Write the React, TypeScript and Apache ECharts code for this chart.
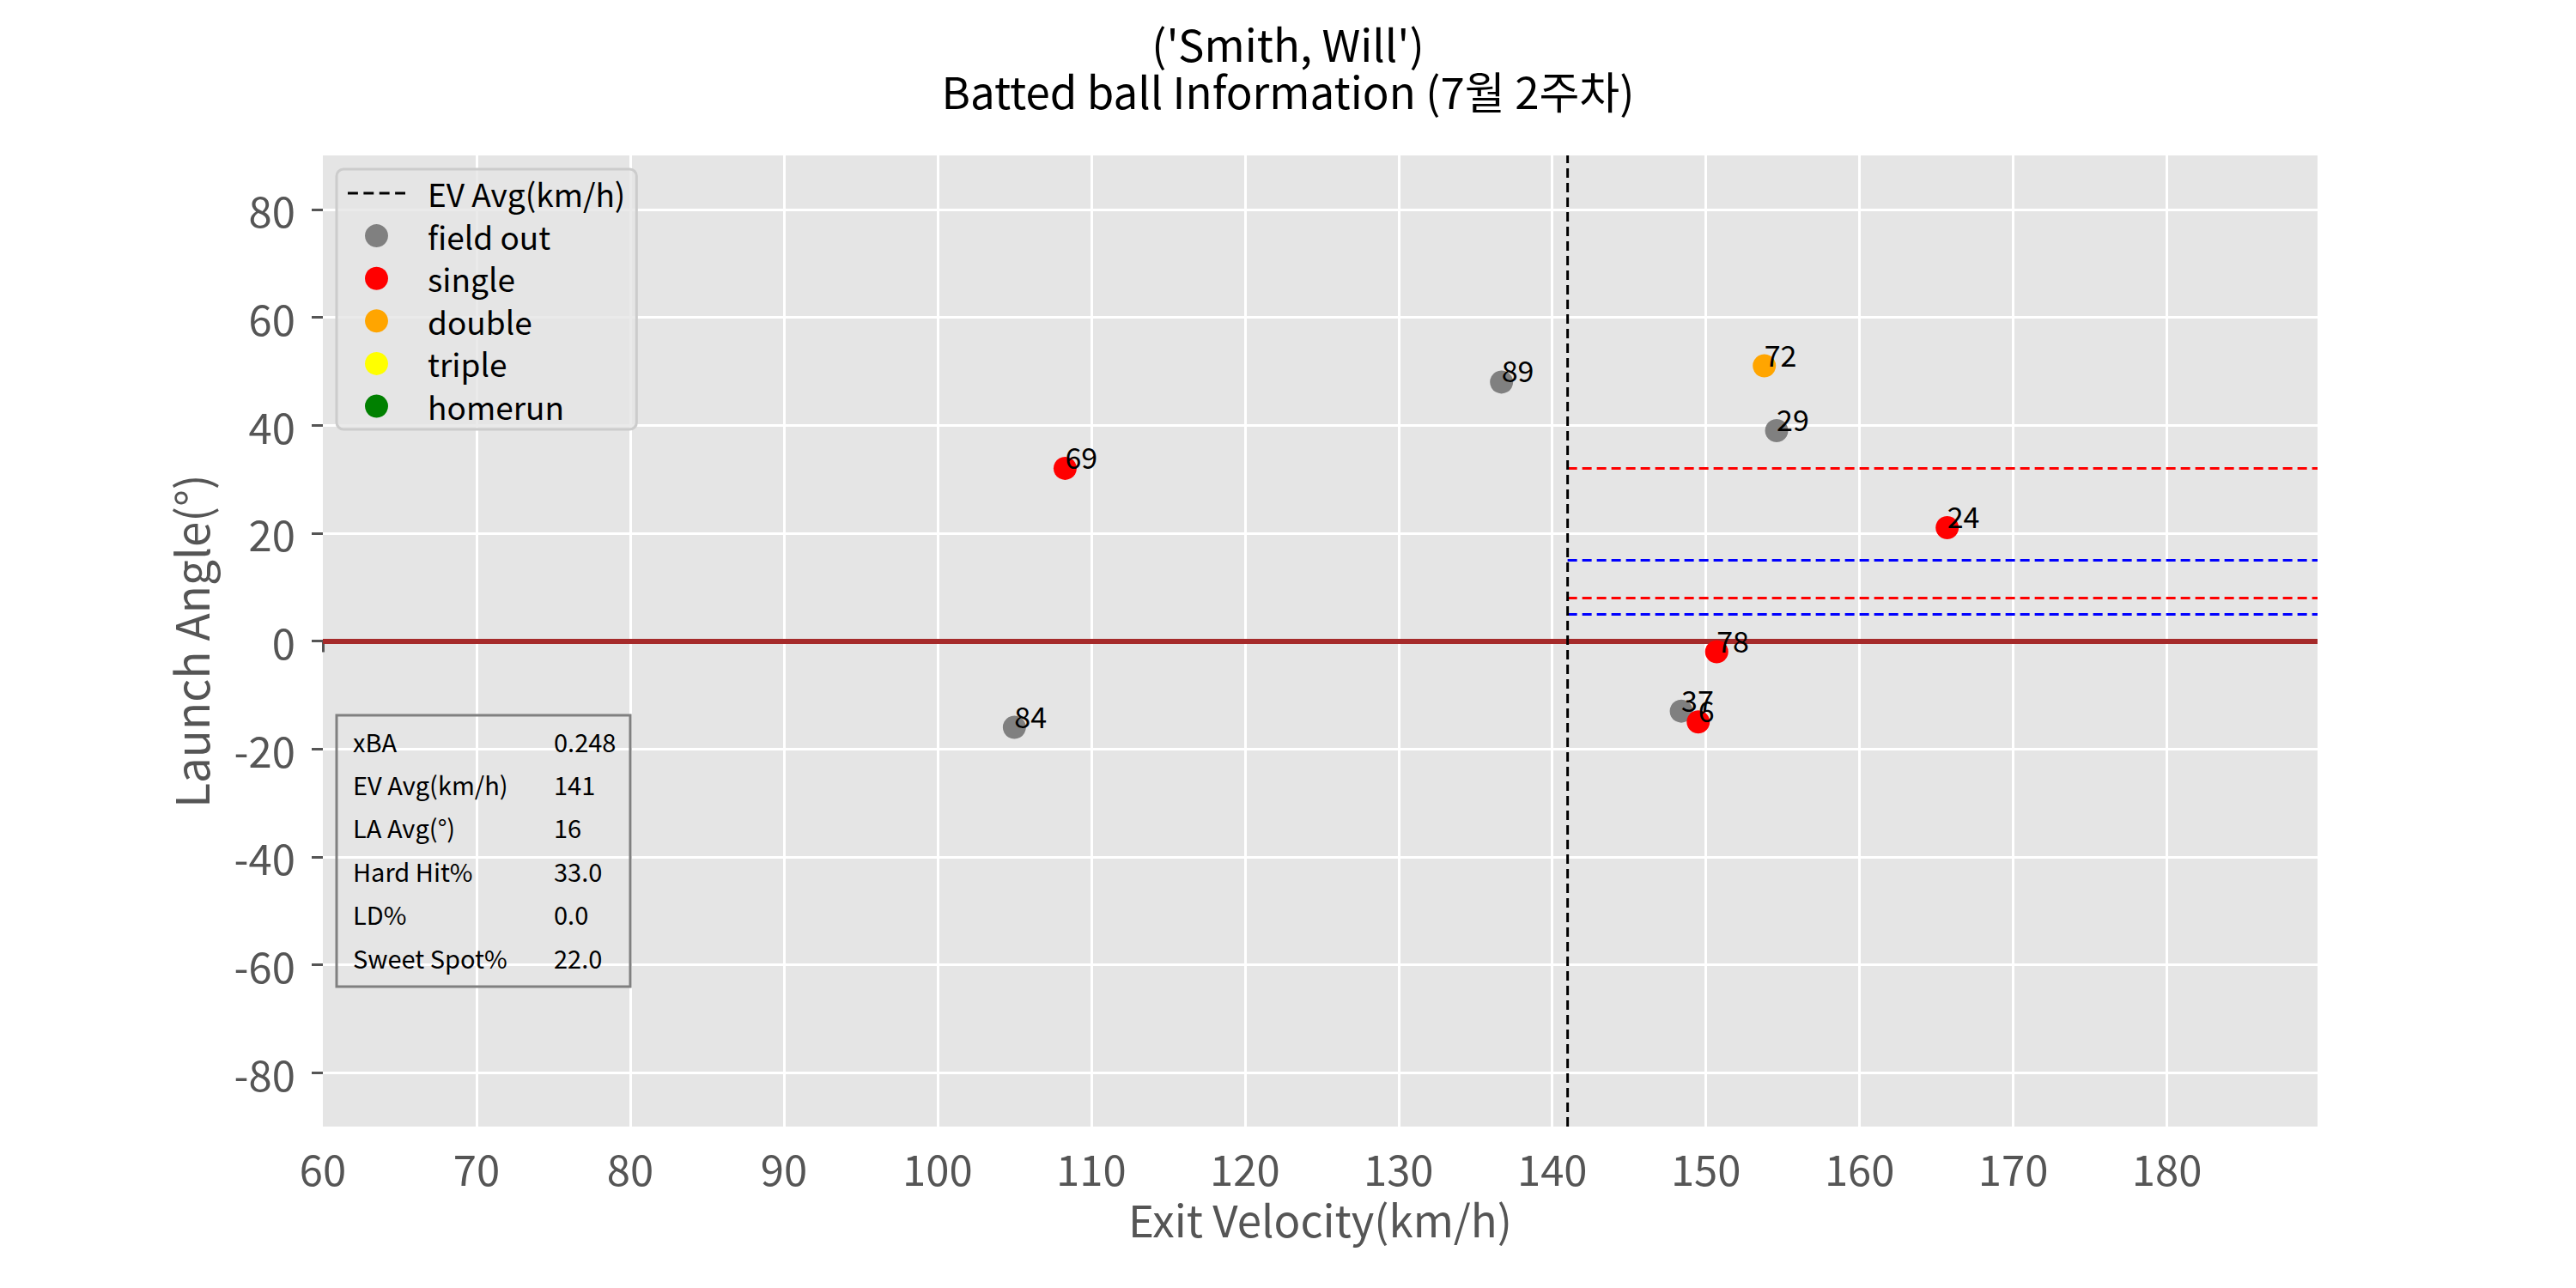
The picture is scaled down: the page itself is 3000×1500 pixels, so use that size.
import React, { useEffect, useRef } from "react";
import * as echarts from "echarts";

// ---- data ----
const hitIds = [84, 69, 89, 72, 29, 24, 78, 37, 6];
const exitVelocity = [105.0, 108.3, 136.7, 153.8, 154.6, 165.7, 150.7, 148.4, 149.5];
const launchAngle = [-16, 32, 48, 51, 39, 21, -2, -13, -15];
const hitResult = ["field out", "single", "field out", "double", "field out", "single", "single", "field out", "single"];

const resultTypes = ["field out", "single", "double", "triple", "homerun"];
const resultColors = ["#808080", "#FF0000", "#FFA500", "#FFFF00", "#008000"];

const evAvg = 141;
const evAvgName = "EV Avg(km/h)";
const redLines = [32, 8];
const blueLines = [15, 5];
const zeroLine = 0;

const xMin = 60;
const xMax = 189.8;
const yMin = -90;
const yMax = 90;
const xTicks = [60, 70, 80, 90, 100, 110, 120, 130, 140, 150, 160, 170, 180];
const yTicks = [-80, -60, -40, -20, 0, 20, 40, 60, 80];

const statLabels = ["xBA", "EV Avg(km/h)", "LA Avg(°)", "Hard Hit%", "LD%", "Sweet Spot%"];
const statValues = ["0.248", "141", "16", "33.0", "0.0", "22.0"];

const titleLines = ["('Smith, Will')", "Batted ball Information (7월 2주차)"];
const xName = "Exit Velocity(km/h)";
const yName = "Launch Angle(°)";

const FONT = "'Noto Sans CJK KR', 'Noto Sans', sans-serif";
const DASH_ICON = "path://M0 0H11V3H0Z M17 0H28V3H17Z M34 0H45V3H34Z M51 0H62V3H51Z";

export default function App() {
  const ref = useRef<HTMLDivElement>(null);

  useEffect(() => {
    if (!ref.current) return;
    const chart = echarts.init(ref.current, null, { renderer: "svg" });

    const gridLineData = [
      ...xTicks.filter((v) => v > xMin && v < xMax).map((v) => ({ xAxis: v })),
      ...yTicks.filter((v) => v > yMin && v < yMax).map((v) => ({ yAxis: v })),
    ];

    const zoneData = [
      ...redLines.map((v) => [
        { coord: [evAvg, v], lineStyle: { color: "#FF0000" } },
        { coord: [xMax, v] },
      ]),
      ...blueLines.map((v) => [
        { coord: [evAvg, v], lineStyle: { color: "#0000FF" } },
        { coord: [xMax, v] },
      ]),
    ];

    const scatterSeries = resultTypes.map((t, k) => ({
      type: "scatter",
      name: t,
      z: 6,
      symbol: "circle",
      symbolSize: 27,
      itemStyle: { color: resultColors[k], opacity: 1 },
      data: hitIds
        .map((id, i) => ({ id, i }))
        .filter((o) => hitResult[o.i] === t)
        .map((o) => [exitVelocity[o.i], launchAngle[o.i], o.id]),
      label: {
        show: true,
        formatter: (p: any) => String(p.data[2]),
        position: [13.5, 16.5],
        align: "left",
        verticalAlign: "bottom",
        color: "#000",
        fontSize: 34,
        fontFamily: FONT,
      },
      emphasis: { disabled: true },
    }));

    const markBase = {
      silent: true,
      symbol: ["none", "none"],
      label: { show: false },
      emphasis: { disabled: true },
    };

    const option: any = {
      animation: false,
      backgroundColor: "#FFFFFF",
      textStyle: { fontFamily: FONT },
      title: {
        text: titleLines.join("\n"),
        left: "center",
        top: 22,
        padding: 0,
        textStyle: {
          fontSize: 51,
          lineHeight: 55,
          color: "#000",
          fontWeight: "normal",
          fontFamily: FONT,
        },
      },
      grid: {
        left: 376,
        right: 301,
        top: 181,
        bottom: 188,
        show: true,
        backgroundColor: "#E5E5E5",
        borderWidth: 0,
        containLabel: false,
      },
      xAxis: {
        type: "value",
        min: xMin,
        max: xMax,
        interval: 10,
        splitLine: { show: false },
        axisLine: { show: false },
        axisTick: {
          show: true,
          length: 13,
          customValues: xTicks,
          lineStyle: { color: "#555555", width: 3 },
        },
        axisLabel: {
          customValues: xTicks,
          fontSize: 49,
          color: "#555555",
          margin: 23,
          fontFamily: FONT,
        },
        name: xName,
        nameLocation: "middle",
        nameGap: 81,
        nameTextStyle: { fontSize: 51, lineHeight: 51, color: "#555555", fontFamily: FONT },
      },
      yAxis: {
        type: "value",
        min: yMin,
        max: yMax,
        splitLine: { show: false },
        axisLine: { show: false },
        axisTick: {
          show: true,
          length: 13,
          customValues: yTicks,
          lineStyle: { color: "#555555", width: 3 },
        },
        axisLabel: {
          customValues: yTicks,
          fontSize: 49,
          color: "#555555",
          margin: 32,
          fontFamily: FONT,
        },
        name: yName,
        nameLocation: "middle",
        nameGap: 129,
        nameTextStyle: { fontSize: 53, lineHeight: 53, color: "#555555", fontFamily: FONT },
      },
      legend: {
        show: true,
        z: 4,
        orient: "vertical",
        left: 392,
        top: 197,
        data: [{ name: evAvgName, icon: DASH_ICON }, ...resultTypes],
        itemWidth: 67,
        itemHeight: 27,
        itemGap: 9.6,
        padding: [8, 13, 7, 13],
        backgroundColor: "rgba(229,229,229,0.8)",
        borderColor: "#CCCCCC",
        borderWidth: 3,
        borderRadius: 8,
        selectedMode: false,
        textStyle: {
          fontSize: 37,
          lineHeight: 40,
          color: "#000",
          fontFamily: FONT,
          padding: [0, 0, 0, 21],
        },
      },
      graphic: [
        {
          type: "group",
          z: 100,
          children: [
            {
              type: "rect",
              z: 100,
              shape: { x: 392, y: 833, width: 342, height: 316 },
              style: { fill: "none", stroke: "#808080", lineWidth: 3 },
            },
            ...statLabels.map((s, i) => ({
              type: "text",
              z: 100,
              x: 411,
              y: 862.5 + i * 50.4,
              style: {
                text: s,
                fontSize: 29,
                fontFamily: FONT,
                fill: "#000",
                verticalAlign: "middle",
                align: "left",
              },
            })),
            ...statValues.map((s, i) => ({
              type: "text",
              z: 100,
              x: 645,
              y: 862.5 + i * 50.4,
              style: {
                text: s,
                fontSize: 29,
                fontFamily: FONT,
                fill: "#000",
                verticalAlign: "middle",
                align: "left",
              },
            })),
          ],
        },
      ],
      series: [
        {
          type: "line",
          name: "gridlines",
          z: 1,
          silent: true,
          data: [],
          markLine: {
            ...markBase,
            z: 1,
            lineStyle: { color: "#FFFFFF", width: 3, type: "solid" },
            data: gridLineData,
          },
        },
        {
          type: "line",
          name: "zero",
          z: 2,
          silent: true,
          data: [],
          markLine: {
            ...markBase,
            z: 2,
            lineStyle: { color: "#A52A2A", width: 6, type: "solid" },
            data: [{ yAxis: zeroLine }],
          },
        },
        {
          type: "line",
          name: "zones",
          z: 3,
          silent: true,
          data: [],
          markLine: {
            ...markBase,
            z: 3,
            lineStyle: { width: 3, type: [11, 6] },
            data: zoneData,
          },
        },
        {
          type: "line",
          name: evAvgName,
          z: 3,
          silent: true,
          symbol: "none",
          itemStyle: { color: "#000000" },
          lineStyle: { color: "#000000", width: 3, type: [11, 6] },
          data: [
            [evAvg, yMin],
            [evAvg, yMax],
          ],
        },
        ...scatterSeries,
      ],
    };

    chart.setOption(option);
    return () => {
      chart.dispose();
    };
  }, []);

  return (
    <div
      ref={ref}
      style={{ position: "fixed", left: 0, top: 0, width: 3000, height: 1500, background: "#fff" }}
    />
  );
}
